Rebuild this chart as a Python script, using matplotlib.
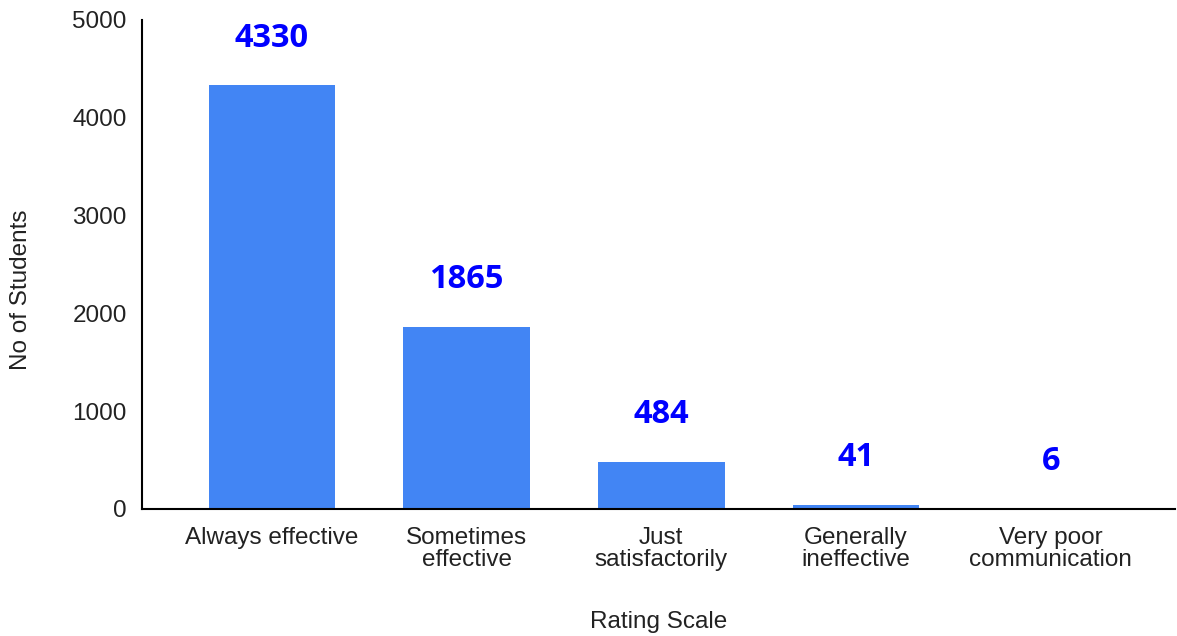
import matplotlib
matplotlib.use("Agg")
import matplotlib.pyplot as plt

categories = ["Always effective", "Sometimes\neffective", "Just\nsatisfactorily",
              "Generally\nineffective", "Very poor\ncommunication"]
students = [4330, 1865, 484, 41, 6]
y_ticks = [0, 1000, 2000, 3000, 4000, 5000]

plt.rcParams['font.family'] = ['Liberation Sans', 'DejaVu Sans']

fig = plt.figure(figsize=(11.77, 6.36), dpi=100)
ax = fig.add_axes([0.1206, 0.1997, 0.8774, 0.7689])

x = list(range(len(categories)))
bars = ax.bar(x, students, width=0.65, color="#4285F4", zorder=2)

# etichette dei valori sopra le barre
for xi, v in zip(x, students):
    ax.annotate(str(v), (xi, v), xytext=(0, 34), textcoords="offset points",
                ha="center", va="center", fontsize=23.5, fontweight="bold",
                color="#0000FF", family=["Open Sans", "DejaVu Sans"])

ax.set_xlim(-0.667, 4.636)
ax.set_ylim(0, 5000)
ax.set_yticks(y_ticks)
ax.set_yticklabels([str(t) for t in y_ticks], fontsize=17.5, color="#222222")
ax.set_xticks(x)
ax.set_xticklabels(categories, fontsize=17.5, color="#222222", linespacing=1.0)
ax.tick_params(axis="x", length=0, pad=13)
ax.tick_params(axis="y", length=0, pad=11)

for s in ["top", "right"]:
    ax.spines[s].set_visible(False)
ax.spines["left"].set_linewidth(1.5)
ax.spines["bottom"].set_linewidth(1.5)

ax.set_xlabel("Rating Scale", fontsize=17.5, color="#222222", labelpad=29)
ax.set_ylabel("No of Students", fontsize=17.5, color="#222222")
ax.yaxis.set_label_coords(-0.106, 0.448)

fig.savefig("out.png", dpi=100)
